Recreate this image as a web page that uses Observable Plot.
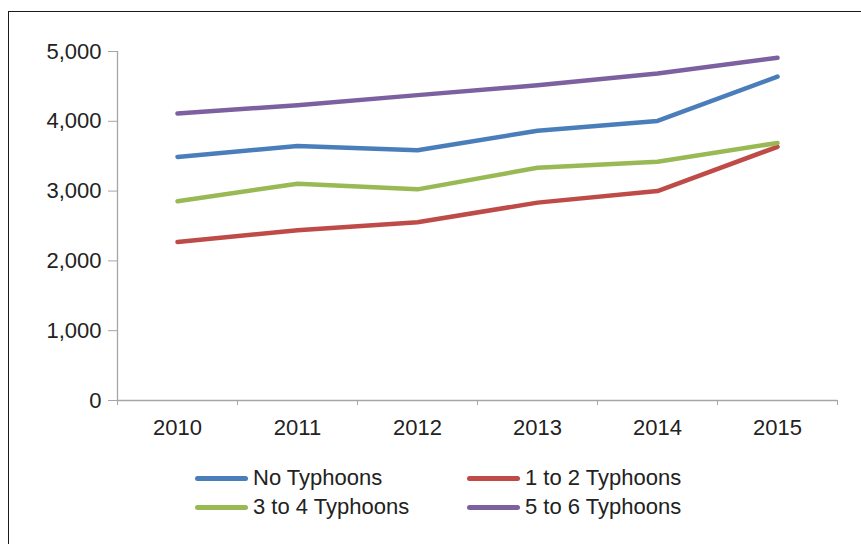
<!DOCTYPE html>
<html>
<head>
<meta charset="utf-8">
<script src="https://cdn.jsdelivr.net/npm/d3@7"></script>
<script src="https://cdn.jsdelivr.net/npm/@observablehq/plot@0.6"></script>
<style>
  html, body { margin: 0; padding: 0; background: #fff; overflow: hidden; width: 861px; height: 544px; }
  body { position: relative; font-family: "Liberation Sans", Arial, sans-serif; color: #222; }
  #frame { position: absolute; left: 8px; top: 11px; width: 900px; height: 600px; border: 1.6px solid #1a1a1a; box-sizing: border-box; }
  #chart { position: absolute; left: 0; top: 0; }
  #chart g[aria-label="y-axis tick"], #chart g[aria-label="x-axis tick"] { stroke: #a6a6a6; }
  #legend { position: absolute; left: 195px; top: 464px; display: grid; grid-template-columns: 272px 272px; row-gap: 1px; font-size: 22px; line-height: 28px; }
  .item { display: flex; align-items: center; white-space: nowrap; }
  .sw { width: 53px; height: 5px; border-radius: 3px; margin-right: 5px; }
</style>
</head>
<body>
<div id="frame"></div>
<div id="chart"></div>
<div id="legend"></div>
<script>
const years = ["2010", "2011", "2012", "2013", "2014", "2015"];
const seriesNames = ["No Typhoons", "1 to 2 Typhoons", "3 to 4 Typhoons", "5 to 6 Typhoons"];
const seriesColors = ["#4a7ebb", "#be4b48", "#98b954", "#7d60a0"];
const noTyphoons   = [3490, 3645, 3585, 3865, 4005, 4640];
const oneToTwo     = [2270, 2440, 2555, 2835, 3000, 3635];
const threeToFour  = [2855, 3105, 3025, 3335, 3420, 3690];
const fiveToSix    = [4112, 4230, 4375, 4515, 4685, 4910];
const yTicks = [0, 1000, 2000, 3000, 4000, 5000];

const seriesValues = [noTyphoons, oneToTwo, threeToFour, fiveToSix];
const rows = [];
seriesNames.forEach((s, k) => seriesValues[k].forEach((v, i) => rows.push({i, series: s, value: v})));

const xMin = -0.5, xMax = years.length - 0.5;
const boundaries = d3.range(years.length + 1).map(i => i - 0.5);

const chart = Plot.plot({
  width: 861,
  height: 450,
  marginTop: 51,
  marginBottom: 50,
  marginLeft: 117,
  marginRight: 24,
  style: {fontFamily: "Liberation Sans, Arial, sans-serif", fontSize: "22px", color: "#222", background: "transparent"},
  x: {type: "linear", domain: [xMin, xMax], axis: null},
  y: {domain: [0, 5000], axis: null},
  color: {domain: seriesNames, range: seriesColors},
  marks: [
    Plot.axisY({ticks: yTicks, tickFormat: d3.format(","), tickSize: 9, tickPadding: 7, label: null}),
    Plot.axisX({ticks: boundaries, tickSize: 5, tickFormat: () => "", label: null}),
    Plot.axisX({ticks: d3.range(years.length), tickSize: 0, tickPadding: 19, tickFormat: i => years[i], label: null}),
    Plot.ruleX([xMin], {stroke: "#a6a6a6", strokeWidth: 1.3}),
    Plot.ruleY([0], {stroke: "#a6a6a6", strokeWidth: 1.3}),
    Plot.line(rows, {x: "i", y: "value", z: "series", stroke: "series", strokeWidth: 4.5, strokeLinecap: "round", strokeLinejoin: "round"})
  ]
});
document.getElementById("chart").appendChild(chart);

const legend = document.getElementById("legend");
seriesNames.forEach((s, k) => {
  const item = document.createElement("div");
  item.className = "item";
  const sw = document.createElement("span");
  sw.className = "sw";
  sw.style.background = seriesColors[k];
  const label = document.createElement("span");
  label.textContent = s;
  item.appendChild(sw);
  item.appendChild(label);
  legend.appendChild(item);
});
</script>
</body>
</html>
